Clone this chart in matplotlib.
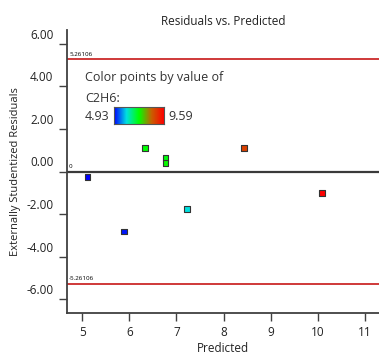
import numpy as np
import matplotlib
matplotlib.use('Agg')
import matplotlib.pyplot as plt
from matplotlib.colors import LinearSegmentedColormap, Normalize
from matplotlib.transforms import ScaledTranslation

plt.rcParams['font.family'] = ['Open Sans', 'DejaVu Sans']

# run data
predicted = [5.11, 5.89, 6.33, 6.77, 6.77, 7.22, 8.43, 10.09]
residuals = [-0.26, -2.81, 1.10, 0.64, 0.40, -1.75, 1.10, -1.01]
c2h6 = [4.93, 5.05, 7.25, 7.20, 7.30, 6.10, 8.80, 9.59]

limit = 5.26106
c_min, c_max = 4.93, 9.59
xticks = [5, 6, 7, 8, 9, 10, 11]
yticks = [-6, -4, -2, 0, 2, 4, 6]

cmap = LinearSegmentedColormap.from_list('bgr', ['#0000ff', '#00e0e0', '#00ff00', '#c86000', '#ff0000'])
norm = Normalize(c_min, c_max)

fig = plt.figure(figsize=(3.79, 3.54), dpi=100)
ax = fig.add_axes([0.176, 0.117, 0.824, 0.798])

ax.axhline(limit, color='#cc2a2a', lw=1.3, zorder=1)
ax.axhline(-limit, color='#cc2a2a', lw=1.3, zorder=1)
ax.axhline(0, color='#3a3a3a', lw=1.6, zorder=1)

ax.scatter(predicted, residuals, c=c2h6, cmap=cmap, norm=norm, marker='s',
           s=15, edgecolors='#333333', linewidths=0.8, zorder=3)

ax.text(4.72, limit + 0.12, '5.26106', fontsize=4.5, va='bottom', ha='left')
ax.text(4.72, -limit + 0.12, '-5.26106', fontsize=4.5, va='bottom', ha='left')
ax.text(4.72, 0.12, '0', fontsize=4.5, va='bottom', ha='left')

ax.set_xlim(4.67, 11.3)
ax.set_ylim(-6.62, 6.64)
ax.set_xticks(xticks)
ax.set_yticks(yticks)
ax.set_yticklabels(['%.2f' % v for v in yticks])
ax.tick_params(axis='both', direction='out', length=6, width=1, color='#404040',
               labelsize=8.5, labelcolor='#222222')
ax.tick_params(axis='x', pad=4)
for lab in ax.get_yticklabels():
    lab.set_va('bottom')
    lab.set_transform(lab.get_transform() + ScaledTranslation(0, 1.5/72, fig.dpi_scale_trans))

for s in ['top', 'right']:
    ax.spines[s].set_visible(False)
for s in ['left', 'bottom']:
    ax.spines[s].set_color('#404040')
    ax.spines[s].set_linewidth(1.3)

ax.set_title('Residuals vs. Predicted', fontsize=8.5, pad=4, color='#222222')
ax.set_xlabel('Predicted', fontsize=8.5, color='#222222', labelpad=2)
ax.set_ylabel('Externally Studentized Residuals', fontsize=8, color='#222222')

# colour key
fig.text(85/379, 1 - 77/354, 'Color points by value of', fontsize=9, va='center', color='#333333')
fig.text(85/379, 1 - 98/354, 'C2H6:', fontsize=9, va='center', color='#333333')
fig.text(85/379, 1 - 116/354, '%.2f' % c_min, fontsize=9, va='center', color='#333333')
fig.text(168/379, 1 - 116/354, '%.2f' % c_max, fontsize=9, va='center', color='#333333')
cax = fig.add_axes([114/379, 1 - 124/354, 50/379, 17/354])
grad = np.linspace(c_min, c_max, 256).reshape(1, -1)
cax.imshow(grad, aspect='auto', cmap=cmap, norm=norm)
cax.set_xticks([])
cax.set_yticks([])
for s in cax.spines.values():
    s.set_color('#555555')
    s.set_linewidth(0.8)

fig.savefig('out.png', dpi=100)
